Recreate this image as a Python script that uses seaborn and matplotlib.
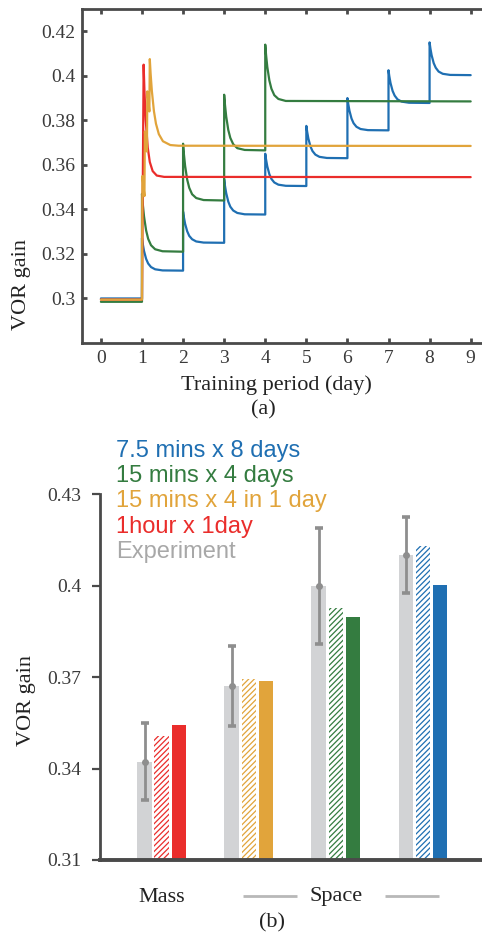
import numpy as np
import pandas as pd
import matplotlib
matplotlib.use("Agg")
import matplotlib.pyplot as plt
import matplotlib.transforms as mtransforms
import seaborn as sns

# ---------------- data: panel (a) ----------------
blue_t = [0.0, 1.0, 1.0, 1.02, 1.05, 1.10, 1.15, 1.22, 1.32, 1.50, 2.0,
          2.0, 2.02, 2.05, 2.10, 2.15, 2.22, 2.32, 2.50, 3.0,
          3.0, 3.02, 3.05, 3.10, 3.15, 3.22, 3.32, 3.50, 4.0,
          4.0, 4.02, 4.05, 4.10, 4.15, 4.22, 4.32, 4.50, 5.0,
          5.0, 5.02, 5.05, 5.10, 5.15, 5.22, 5.32, 5.50, 6.0,
          6.0, 6.02, 6.05, 6.10, 6.15, 6.22, 6.32, 6.50, 7.0,
          7.0, 7.02, 7.05, 7.10, 7.15, 7.22, 7.32, 7.50, 8.0,
          8.0, 8.02, 8.05, 8.10, 8.15, 8.22, 8.32, 8.50, 9.0]
blue_v = [0.3000, 0.3000, 0.3270, 0.3244, 0.3213, 0.3178, 0.3157, 0.3141, 0.3131, 0.3126, 0.3125,
          0.3390, 0.3365, 0.3335, 0.3302, 0.3281, 0.3266, 0.3256, 0.3251, 0.3250,
          0.3535, 0.3506, 0.3473, 0.3435, 0.3412, 0.3395, 0.3384, 0.3378, 0.3377,
          0.3650, 0.3624, 0.3593, 0.3558, 0.3537, 0.3521, 0.3511, 0.3506, 0.3505,
          0.3775, 0.3749, 0.3718, 0.3683, 0.3662, 0.3646, 0.3636, 0.3631, 0.3630,
          0.3900, 0.3874, 0.3843, 0.3808, 0.3787, 0.3771, 0.3761, 0.3756, 0.3755,
          0.4025, 0.3998, 0.3967, 0.3932, 0.3911, 0.3894, 0.3884, 0.3879, 0.3878,
          0.4150, 0.4123, 0.4092, 0.4057, 0.4036, 0.4019, 0.4009, 0.4004, 0.4003]

green_t = [0.0, 1.0, 1.0, 1.02, 1.05, 1.10, 1.15, 1.22, 1.32, 1.50, 2.0,
           2.0, 2.02, 2.05, 2.10, 2.15, 2.22, 2.32, 2.50, 3.0,
           3.0, 3.02, 3.05, 3.10, 3.15, 3.22, 3.32, 3.50, 4.0,
           4.0, 4.02, 4.05, 4.10, 4.15, 4.22, 4.32, 4.50, 9.0]
green_v = [0.2985, 0.2985, 0.3470, 0.3423, 0.3368, 0.3306, 0.3268, 0.3239, 0.3221, 0.3212, 0.3210,
           0.3695, 0.3649, 0.3595, 0.3534, 0.3497, 0.3468, 0.3451, 0.3442, 0.3440,
           0.3915, 0.3870, 0.3817, 0.3757, 0.3721, 0.3693, 0.3675, 0.3667, 0.3665,
           0.4140, 0.4094, 0.4040, 0.3979, 0.3942, 0.3913, 0.3896, 0.3887, 0.3885]

red_t = [0.0, 1.0, 1.04, 1.06, 1.09, 1.14, 1.19, 1.26, 1.36, 1.54, 9.0]
red_v = [0.2995, 0.2995, 0.4050, 0.3932, 0.3804, 0.3678, 0.3613, 0.3572, 0.3552, 0.3546, 0.3545]

orange_t = [0.0, 1.0, 1.01, 1.06, 1.07, 1.12, 1.13, 1.18, 1.19,
            1.21, 1.24, 1.29, 1.34, 1.41, 1.51, 1.69, 1.89, 9.0]
orange_v = [0.2995, 0.2995, 0.3550, 0.3460, 0.3750, 0.3660, 0.3930, 0.3840, 0.4075,
            0.4010, 0.3933, 0.3842, 0.3785, 0.3738, 0.3706, 0.3689, 0.3686, 0.3685]

day_ticks = list(range(10))
a_yticks = [0.30, 0.32, 0.34, 0.36, 0.38, 0.40, 0.42]
a_yticklabels = ["0.3", "0.32", "0.34", "0.36", "0.38", "0.4", "0.42"]

# ---------------- data: panel (b) ----------------
groups = ["Mass", "Space 1", "Space 2", "Space 3"]
exp_vals = [0.3423, 0.3671, 0.4000, 0.4101]
exp_err = [0.0125, 0.0130, 0.0190, 0.0126]
hatched_vals = [0.3508, 0.3695, 0.3926, 0.4131]
solid_vals = [0.3542, 0.3687, 0.3897, 0.4003]
b_yticks = [0.31, 0.34, 0.37, 0.40, 0.43]
b_yticklabels = ["0.31", "0.34", "0.37", "0.4", "0.43"]
legend_labels = ["7.5 mins x 8 days", "15 mins x 4 days", "15 mins x 4 in 1 day",
                 "1hour x 1day", "Experiment"]

# ---------------- styling ----------------
C_BLUE = "#1f6fb2"
C_GREEN = "#347c40"
C_ORANGE = "#e1a43b"
C_RED = "#ea2d2b"
C_GRAY_BAR = "#d2d3d5"
C_ERR = "#8e8e8e"
C_LEG_GRAY = "#a8a8a8"
C_SPINE = "#4a4a4a"
C_TEXT = "#3a3a3a"

sns.set_theme(style="white")
plt.rcParams["font.family"] = ["Liberation Serif", "DejaVu Serif"]
plt.rcParams["hatch.linewidth"] = 0.9

W, H = 482, 934
fig = plt.figure(figsize=(W / 100, H / 100), dpi=100)
fig.patch.set_facecolor("white")

def fx(px):
    return px / W

def fy(py):
    return 1 - py / H

# ---------------- panel (a) ----------------
ax1 = fig.add_axes([fx(82), fy(343), fx(483) - fx(82), fy(9) - fy(343)])
series = [("blue", blue_t, blue_v, C_BLUE), ("green", green_t, green_v, C_GREEN),
          ("red", red_t, red_v, C_RED), ("orange", orange_t, orange_v, C_ORANGE)]
for name, t, v, c in series:
    d = pd.DataFrame({"t": t, "v": v})
    sns.lineplot(data=d, x="t", y="v", sort=False, estimator=None, color=c,
                 lw=1.6, ax=ax1, legend=False)

ax1.set_xlim(-0.46, 9.3)
ax1.set_ylim(0.28, 0.43)
ax1.set_xticks(day_ticks)
ax1.set_xticklabels([str(d) for d in day_ticks])
ax1.set_yticks(a_yticks)
ax1.set_yticklabels(a_yticklabels)
ax1.set_xlabel("")
ax1.set_ylabel("")
for s in ax1.spines.values():
    s.set_color(C_SPINE)
    s.set_linewidth(2.0)
ax1.tick_params(axis="both", direction="in", length=3.5, width=2.0, color=C_SPINE,
                labelcolor=C_TEXT, labelsize=14, pad=5, top=True, right=False,
                bottom=True, left=True)

fig.text(fx(276), fy(390), "Training period (day)", ha="center", va="baseline",
         fontsize=16, color="#222222")
fig.text(fx(263), fy(414), "(a)", ha="center", va="baseline", fontsize=16, color="#222222")
fig.text(fx(22), fy(284), "VOR gain", ha="center", va="center", rotation=90,
         fontsize=16, color="#222222")

# ---------------- panel (b) ----------------
ax2 = fig.add_axes([fx(100), fy(860), fx(483) - fx(100), fy(494.3) - fy(860)])
bdf = pd.DataFrame({
    "group": groups * 3,
    "kind": ["exp"] * 4 + ["hatched"] * 4 + ["solid"] * 4,
    "value": exp_vals + hatched_vals + solid_vals,
})
sns.barplot(data=bdf, x="group", y="value", hue="kind",
            hue_order=["exp", "hatched", "solid"], order=groups,
            width=0.588, gap=0.14, errorbar=None, legend=False,
            saturation=1, ax=ax2)

group_colors = [C_RED, C_ORANGE, C_GREEN, C_BLUE]
for ci, cont in enumerate(ax2.containers):
    for gi, bar in enumerate(cont):
        if ci == 0:
            bar.set_facecolor(C_GRAY_BAR)
            bar.set_edgecolor("none")
            bar.set_linewidth(0)
        elif ci == 1:
            bar.set_facecolor("white")
            bar.set_edgecolor(group_colors[gi])
            bar.set_hatch("//////")
            bar.set_linewidth(0)
        else:
            bar.set_facecolor(group_colors[gi])
            bar.set_edgecolor("none")
            bar.set_linewidth(0)

exp_x = [b.get_x() + b.get_width() / 2 for b in ax2.containers[0]]
ax2.errorbar(exp_x, exp_vals, yerr=exp_err, fmt="o", color=C_ERR, ms=4,
             elinewidth=2.0, capsize=3.0, capthick=2.6, zorder=5)

ax2.set_xlim(-0.71, 3.69)
ax2.set_ylim(0.31, 0.43)
ax2.set_yticks(b_yticks)
ax2.set_yticklabels(b_yticklabels)
ax2.set_xticks([])
ax2.set_xlabel("")
ax2.set_ylabel("")
ax2.spines["top"].set_visible(False)
ax2.spines["right"].set_visible(False)
ax2.spines["left"].set_color(C_SPINE)
ax2.spines["left"].set_linewidth(2.0)
ax2.spines["bottom"].set_color(C_SPINE)
ax2.spines["bottom"].set_linewidth(2.8)
ax2.tick_params(axis="y", direction="out", length=5.5, width=1.6, color=C_SPINE,
                labelcolor=C_TEXT, labelsize=14, pad=8, left=True)

fig.text(fx(27), fy(701), "VOR gain", ha="center", va="center", rotation=90,
         fontsize=16, color="#222222")

blend = mtransforms.blended_transform_factory(ax2.transData, fig.transFigure)
ax2.text(0, fy(901.5), "Mass", transform=blend, ha="center", va="baseline",
         fontsize=16, color="#222222")
ax2.text(2, fy(901.5), "Space", transform=blend, ha="center", va="baseline",
         fontsize=16, color="#222222")
for x0, x1 in [(0.936, 1.557), (2.559, 3.18)]:
    ax2.plot([x0, x1], [fy(896), fy(896)], transform=blend, color="#b8b8b8",
             lw=2.0, clip_on=False, solid_capstyle="butt")
fig.text(fx(272), fy(927), "(b)", ha="center", va="baseline", fontsize=16, color="#222222")

leg_colors = [C_BLUE, C_GREEN, C_ORANGE, C_RED, C_LEG_GRAY]
leg_base = [456.7, 482.1, 507.5, 532.9, 558.3]
for lab, col, yb in zip(legend_labels, leg_colors, leg_base):
    fig.text(fx(116), fy(yb), lab, ha="left", va="baseline", fontsize=17,
             color=col, family=["Liberation Sans", "DejaVu Sans"])

fig.savefig("out.png", dpi=100, facecolor="white")
